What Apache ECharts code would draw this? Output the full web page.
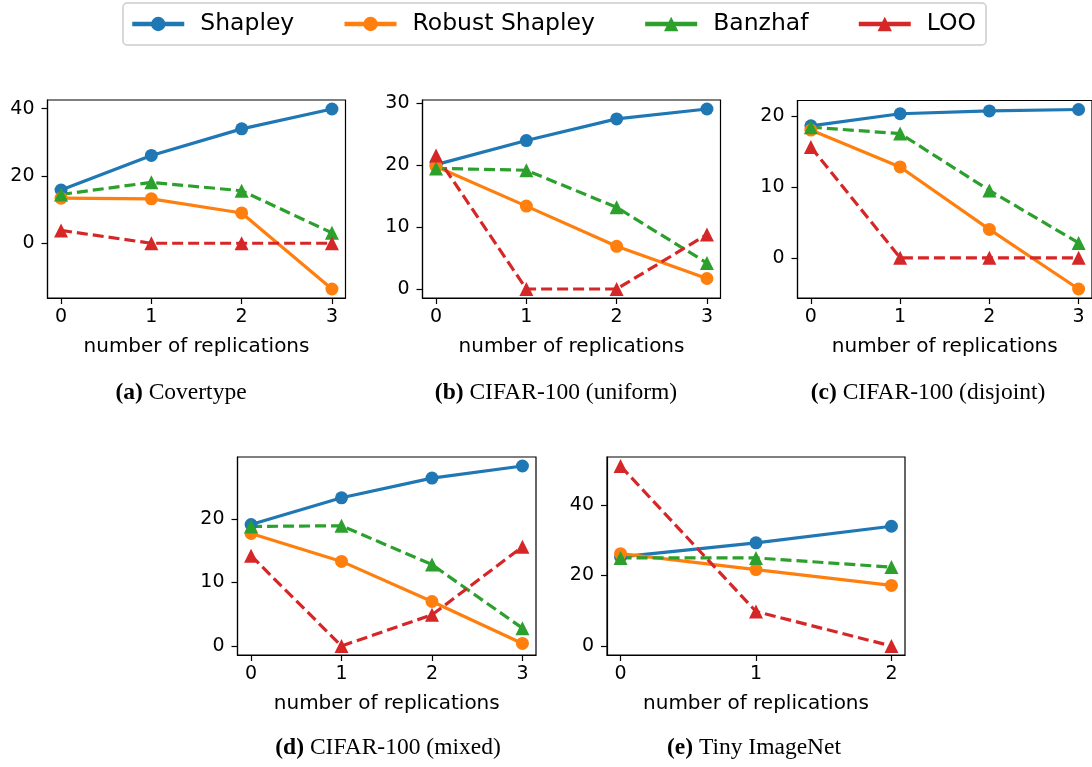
<!DOCTYPE html>
<html>
<head>
<meta charset="utf-8">
<script src="https://cdn.jsdelivr.net/npm/echarts@6/dist/echarts.min.js"></script>
<style>
  html, body { margin: 0; padding: 0; background: #fff; }
  #chart { width: 1092px; height: 767px; }
</style>
</head>
<body>
<div id="chart"></div>
<script>
// ---- data ----------------------------------------------------------------
const methods = ['Shapley', 'Robust Shapley', 'Banzhaf', 'LOO'];
const replicationsFour = [0, 1, 2, 3];
const replicationsThree = [0, 1, 2];

// (a) Covertype
const covertypeShapley = [15.8, 26.1, 34.0, 39.9];
const covertypeRobust = [13.4, 13.2, 9.0, -13.6];
const covertypeBanzhaf = [14.5, 18.1, 15.6, 3.1];
const covertypeLoo = [3.8, 0, 0, 0];

// (b) CIFAR-100 (uniform)
const uniformShapley = [20.1, 24.0, 27.5, 29.1];
const uniformRobust = [19.8, 13.4, 6.9, 1.7];
const uniformBanzhaf = [19.5, 19.2, 13.2, 4.2];
const uniformLoo = [21.6, 0, 0, 8.8];

// (c) CIFAR-100 (disjoint)
const disjointShapley = [18.6, 20.3, 20.7, 20.9];
const disjointRobust = [18.0, 12.8, 4.0, -4.4];
const disjointBanzhaf = [18.4, 17.5, 9.5, 2.1];
const disjointLoo = [15.6, 0, 0, 0];

// (d) CIFAR-100 (mixed)
const mixedShapley = [19.1, 23.3, 26.4, 28.3];
const mixedRobust = [17.7, 13.3, 7.0, 0.4];
const mixedBanzhaf = [18.8, 18.9, 12.8, 2.8];
const mixedLoo = [14.2, 0, 4.9, 15.6];

// (e) Tiny ImageNet
const tinyShapley = [25.3, 29.3, 34.0];
const tinyRobust = [26.2, 21.7, 17.2];
const tinyBanzhaf = [25.0, 25.0, 22.4];
const tinyLoo = [51.1, 9.8, 0];

// y tick labels per panel
const ticksCovertype = [0, 20, 40];
const ticksUniform = [0, 10, 20, 30];
const ticksDisjoint = [0, 10, 20];
const ticksMixed = [0, 10, 20];
const ticksTiny = [0, 20, 40];

const panels = [
  { tag: '(a)', title: 'Covertype', x: replicationsFour, yTicks: ticksCovertype,
    values: [covertypeShapley, covertypeRobust, covertypeBanzhaf, covertypeLoo] },
  { tag: '(b)', title: 'CIFAR-100 (uniform)', x: replicationsFour, yTicks: ticksUniform,
    values: [uniformShapley, uniformRobust, uniformBanzhaf, uniformLoo] },
  { tag: '(c)', title: 'CIFAR-100 (disjoint)', x: replicationsFour, yTicks: ticksDisjoint,
    values: [disjointShapley, disjointRobust, disjointBanzhaf, disjointLoo] },
  { tag: '(d)', title: 'CIFAR-100 (mixed)', x: replicationsFour, yTicks: ticksMixed,
    values: [mixedShapley, mixedRobust, mixedBanzhaf, mixedLoo] },
  { tag: '(e)', title: 'Tiny ImageNet', x: replicationsThree, yTicks: ticksTiny,
    values: [tinyShapley, tinyRobust, tinyBanzhaf, tinyLoo] }
];

// ---- layout & styles -----------------------------------------------------
const boxes = [
  { left: 47.5, top: 100, width: 298, height: 198 },
  { left: 422.5, top: 100, width: 298, height: 198 },
  { left: 797.5, top: 100.5, width: 298, height: 197.5 },
  { left: 237.5, top: 457, width: 298.5, height: 198 },
  { left: 607, top: 457, width: 298, height: 198 }
];
// caption anchors (centre of each sub-figure, below its axis title)
const captionAnchors = [
  { x: 181, y: 393 }, { x: 556, y: 393 }, { x: 928, y: 393 },
  { x: 388, y: 748 }, { x: 754, y: 748 }
];
const colors = ['#1f77b4', '#ff7f0e', '#2ca02c', '#d62728'];
const symbols = ['circle', 'circle', 'triangle', 'triangle'];
const symbolSizes = [13, 13, 14, 14];
const dashed = [false, false, true, true];

const SANS = 'DejaVu Sans';
const SERIF = 'Liberation Serif';

// axis extent with a 5% margin on both sides of the data
function padded(vals) {
  const lo = Math.min(...vals), hi = Math.max(...vals);
  const m = 0.05 * (hi - lo);
  return [lo - m, hi + m];
}

const grids = [], xAxes = [], yAxes = [], series = [], captions = [];

panels.forEach((p, i) => {
  const b = boxes[i];
  grids.push({
    left: b.left, top: b.top, width: b.width, height: b.height,
    show: true, borderColor: '#000', borderWidth: 1.2, backgroundColor: 'transparent'
  });
  const [xmin, xmax] = padded(p.x);
  const [ymin, ymax] = padded([].concat(...p.values));
  xAxes.push({
    gridIndex: i, type: 'value', min: xmin, max: xmax,
    axisLine: { show: true, onZero: false, lineStyle: { color: '#000', width: 1.2 } },
    axisTick: { show: true, length: 6, lineStyle: { color: '#000', width: 1.2 }, customValues: p.x },
    axisLabel: { customValues: p.x, color: '#000', fontFamily: SANS, fontSize: 19, margin: 10 },
    splitLine: { show: false },
    name: 'number of replications', nameLocation: 'middle', nameGap: 39,
    nameTextStyle: { color: '#000', fontFamily: SANS, fontSize: 20 }
  });
  yAxes.push({
    gridIndex: i, type: 'value', min: ymin, max: ymax,
    axisLine: { show: true, onZero: false, lineStyle: { color: '#000', width: 1.2 } },
    axisTick: { show: true, length: 6, lineStyle: { color: '#000', width: 1.2 }, customValues: p.yTicks },
    axisLabel: { customValues: p.yTicks, color: '#000', fontFamily: SANS, fontSize: 19, margin: 13 },
    splitLine: { show: false }
  });
  p.values.forEach((vals, m) => {
    series.push({
      type: 'line', name: methods[m], xAxisIndex: i, yAxisIndex: i,
      data: p.x.map((x, k) => [x, vals[k]]),
      symbol: symbols[m], symbolSize: symbolSizes[m], showSymbol: true,
      itemStyle: { color: colors[m], borderWidth: 0 },
      lineStyle: { color: colors[m], width: 3.2, type: dashed[m] ? [11, 5] : 'solid' },
      emphasis: { disabled: true }, animation: false, silent: true
    });
  });
  const c = captionAnchors[i];
  captions.push({
    type: 'text', x: c.x, y: c.y,
    style: {
      text: '{b|' + p.tag + '} ' + p.title,
      align: 'center', verticalAlign: 'middle', textAlign: 'center', textVerticalAlign: 'middle',
      fontFamily: SERIF, fontSize: 23.5, fill: '#000',
      rich: { b: { fontFamily: SERIF, fontSize: 23.5, fontWeight: 'bold', fill: '#000' } }
    }
  });
});

const chart = echarts.init(document.getElementById('chart'), null, { renderer: 'canvas' });
chart.setOption({
  backgroundColor: '#fff',
  animation: false,
  grid: grids,
  xAxis: xAxes,
  yAxis: yAxes,
  series: series,
  legend: {
    data: methods, left: 123, top: 3, orient: 'horizontal',
    itemWidth: 52, itemHeight: 18, itemGap: 48,
    padding: [9, 10, 9, 7],
    lineStyle: { width: 4.5, type: 'solid' },
    borderColor: '#cccccc', borderWidth: 1.5, borderRadius: 4,
    textStyle: { fontFamily: SANS, fontSize: 23.5, color: '#000', padding: [0, 0, 0, 11] },
    selectedMode: false
  },
  graphic: captions
});
</script>
</body>
</html>
